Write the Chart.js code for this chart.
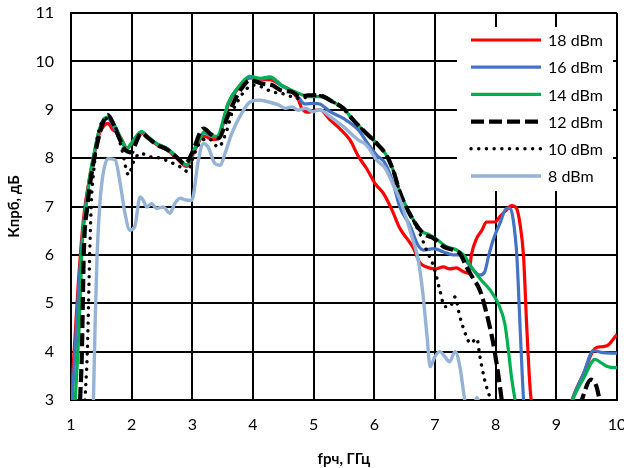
<!DOCTYPE html>
<html>
<head>
<meta charset="utf-8">
<script src="https://cdn.jsdelivr.net/npm/chart.js@4"></script>
<style>
  body { margin: 0; background: #fff; }
  canvas { display: block; }
</style>
</head>
<body>
<canvas id="chart" width="624" height="468"></canvas>
<script>
// legend labels
const labels = ['18 dBm', '16 dBm', '14 dBm', '12 dBm', '10 dBm', '8 dBm'];

// 18 dBm
const freq18 = [1.0, 1.07, 1.12, 1.16, 1.22, 1.3, 1.37, 1.45, 1.53, 1.61, 1.68, 1.78, 1.85, 1.92, 2.03, 2.16, 2.27, 2.41, 2.58, 2.74, 2.91, 3.0, 3.15, 3.2, 3.34, 3.43, 3.59, 3.76, 3.95, 4.12, 4.28, 4.47, 4.64, 4.75, 4.8, 4.9, 5.0, 5.1, 5.27, 5.43, 5.6, 5.74, 5.87, 6.01, 6.15, 6.29, 6.42, 6.53, 6.64, 6.75, 6.86, 7.0, 7.14, 7.24, 7.35, 7.47, 7.56, 7.6, 7.69, 7.77, 7.85, 7.99, 8.07, 8.18, 8.26, 8.34, 8.4, 8.46, 8.51, 8.57, 8.61, 8.7, 9.15, 9.26, 9.45, 9.64, 9.75, 9.86, 9.97, 10.0];
const kp18 = [3.0, 4.38, 5.41, 6.1, 6.9, 7.55, 8.0, 8.45, 8.65, 8.72, 8.6, 8.5, 8.35, 8.2, 8.35, 8.52, 8.42, 8.28, 8.18, 8.0, 7.83, 8.05, 8.42, 8.45, 8.38, 8.42, 9.1, 9.45, 9.66, 9.63, 9.62, 9.5, 9.38, 9.2, 9.04, 8.95, 8.98, 9.0, 8.79, 8.61, 8.37, 8.03, 7.79, 7.48, 7.27, 6.93, 6.55, 6.35, 6.15, 5.84, 5.75, 5.71, 5.75, 5.71, 5.73, 5.65, 5.62, 6.0, 6.35, 6.5, 6.68, 6.68, 6.79, 6.93, 7.02, 6.97, 6.65, 5.96, 4.58, 3.2, 2.8, 2.5, 2.5, 3.0, 3.55, 4.07, 4.1, 4.14, 4.31, 4.35];

// 16 dBm
const freq16 = [1.02, 1.08, 1.13, 1.17, 1.23, 1.3, 1.37, 1.45, 1.53, 1.61, 1.7, 1.8, 1.92, 2.03, 2.16, 2.27, 2.41, 2.58, 2.74, 2.91, 3.0, 3.15, 3.2, 3.34, 3.43, 3.59, 3.76, 3.95, 4.12, 4.28, 4.47, 4.64, 4.75, 4.85, 5.0, 5.1, 5.27, 5.49, 5.74, 5.87, 6.04, 6.18, 6.31, 6.42, 6.59, 6.72, 6.81, 6.98, 7.14, 7.3, 7.41, 7.52, 7.63, 7.74, 7.82, 7.88, 7.96, 8.07, 8.18, 8.24, 8.29, 8.35, 8.4, 8.46, 8.5, 9.15, 9.26, 9.45, 9.61, 9.77, 9.97, 10.0];
const kp16 = [3.0, 4.3, 5.4, 6.1, 6.9, 7.5, 8.0, 8.5, 8.75, 8.82, 8.65, 8.42, 8.2, 8.37, 8.55, 8.43, 8.3, 8.2, 8.03, 7.85, 8.08, 8.47, 8.52, 8.45, 8.45, 9.13, 9.47, 9.67, 9.64, 9.67, 9.5, 9.38, 9.25, 9.12, 9.13, 9.12, 8.96, 8.82, 8.58, 8.34, 8.06, 7.89, 7.48, 6.99, 6.6, 6.2, 6.1, 6.13, 6.06, 6.0, 6.0, 5.86, 5.69, 5.58, 5.65, 5.96, 6.31, 6.65, 6.96, 6.96, 6.72, 5.96, 4.58, 3.0, 2.5, 2.5, 3.0, 3.55, 4.02, 3.98, 3.97, 3.97];

// 14 dBm
const freq14 = [1.07, 1.13, 1.16, 1.18, 1.25, 1.3, 1.37, 1.45, 1.53, 1.61, 1.73, 1.84, 1.92, 2.03, 2.16, 2.27, 2.41, 2.58, 2.74, 2.91, 3.0, 3.15, 3.19, 3.4, 3.59, 3.76, 3.95, 4.12, 4.28, 4.47, 4.64, 4.75, 4.91, 5.1, 5.32, 5.49, 5.65, 5.87, 6.01, 6.2, 6.31, 6.42, 6.59, 6.75, 6.92, 7.04, 7.19, 7.36, 7.47, 7.58, 7.74, 7.91, 8.04, 8.15, 8.21, 8.26, 8.32, 8.4, 9.15, 9.27, 9.45, 9.64, 9.75, 9.83, 9.97, 10.0];
const kp14 = [3.0, 4.38, 5.3, 6.1, 7.0, 7.55, 8.03, 8.51, 8.79, 8.85, 8.65, 8.37, 8.2, 8.37, 8.55, 8.44, 8.3, 8.2, 8.03, 7.86, 8.1, 8.47, 8.54, 8.44, 9.13, 9.47, 9.69, 9.65, 9.68, 9.51, 9.4, 9.34, 9.27, 9.27, 9.16, 9.03, 8.79, 8.51, 8.34, 8.06, 7.75, 7.3, 6.85, 6.51, 6.41, 6.31, 6.17, 6.1, 6.0, 5.79, 5.51, 5.27, 5.0, 4.58, 4.03, 3.48, 3.0, 2.5, 2.5, 3.0, 3.45, 3.84, 3.76, 3.7, 3.67, 3.67];

// 12 dBm
const freq12 = [1.15, 1.18, 1.21, 1.27, 1.33, 1.4, 1.48, 1.55, 1.61, 1.7, 1.8, 1.89, 2.0, 2.08, 2.16, 2.27, 2.41, 2.58, 2.74, 2.88, 3.0, 3.15, 3.19, 3.3, 3.43, 3.59, 3.7, 3.81, 3.95, 4.15, 4.31, 4.47, 4.64, 4.78, 4.91, 5.08, 5.15, 5.32, 5.49, 5.65, 5.87, 6.01, 6.2, 6.31, 6.42, 6.64, 6.81, 6.98, 7.14, 7.3, 7.41, 7.52, 7.63, 7.74, 7.85, 7.96, 8.04, 8.1, 8.15, 9.3, 9.42, 9.57, 9.71, 9.75, 10.0];
const kp12 = [3.0, 4.0, 6.0, 7.0, 7.6, 8.1, 8.55, 8.8, 8.89, 8.7, 8.4, 8.17, 8.12, 8.35, 8.52, 8.42, 8.28, 8.18, 8.02, 7.88, 8.12, 8.58, 8.61, 8.5, 8.41, 8.89, 9.2, 9.44, 9.61, 9.54, 9.51, 9.4, 9.37, 9.27, 9.3, 9.3, 9.28, 9.16, 9.03, 8.79, 8.51, 8.34, 8.06, 7.75, 7.3, 6.72, 6.44, 6.34, 6.17, 6.1, 6.03, 5.75, 5.51, 5.27, 4.79, 4.17, 3.55, 3.0, 2.5, 2.5, 3.0, 3.42, 3.0, 2.5, 2.5];

// 10 dBm
const freq10 = [1.23, 1.27, 1.31, 1.34, 1.38, 1.42, 1.5, 1.59, 1.73, 1.84, 1.95, 2.03, 2.14, 2.3, 2.47, 2.63, 2.8, 2.93, 3.0, 3.1, 3.26, 3.43, 3.57, 3.65, 3.76, 3.87, 4.0, 4.15, 4.31, 4.47, 4.64, 4.8, 4.96, 5.15, 5.32, 5.49, 5.65, 5.87, 6.01, 6.2, 6.31, 6.42, 6.64, 6.75, 6.86, 6.98, 7.08, 7.16, 7.25, 7.33, 7.41, 7.52, 7.58, 7.69, 7.74, 7.82, 7.91, 7.96, 8.0];
const kp10 = [3.0, 4.03, 6.1, 7.2, 7.8, 8.3, 8.72, 8.82, 8.65, 8.17, 7.65, 7.92, 8.1, 8.03, 8.0, 7.92, 7.82, 7.72, 7.97, 8.27, 8.41, 8.23, 8.58, 8.92, 9.2, 9.4, 9.51, 9.47, 9.37, 9.34, 9.27, 9.23, 9.3, 9.28, 9.16, 9.03, 8.79, 8.51, 8.34, 8.06, 7.75, 7.3, 6.72, 6.44, 6.1, 5.75, 5.27, 4.93, 4.93, 5.13, 4.72, 4.31, 4.17, 4.27, 3.9, 3.41, 3.07, 3.0, 2.5];

// 8 dBm
const freq8 = [1.37, 1.4, 1.43, 1.48, 1.53, 1.61, 1.73, 1.81, 1.89, 1.97, 2.05, 2.14, 2.19, 2.25, 2.33, 2.41, 2.52, 2.63, 2.71, 2.8, 2.91, 2.99, 3.1, 3.18, 3.26, 3.37, 3.46, 3.54, 3.65, 3.81, 3.95, 4.09, 4.26, 4.42, 4.53, 4.64, 4.75, 4.86, 4.99, 5.1, 5.27, 5.49, 5.74, 5.87, 6.04, 6.18, 6.31, 6.42, 6.59, 6.73, 6.8, 6.87, 6.92, 7.0, 7.08, 7.16, 7.24, 7.33, 7.41, 7.49, 7.55, 7.63, 7.69, 7.75, 7.8];
const kp8 = [3.0, 4.7, 6.0, 7.13, 7.68, 7.99, 7.96, 7.48, 6.86, 6.51, 6.58, 7.2, 7.13, 6.99, 7.06, 6.96, 6.99, 6.86, 7.06, 7.17, 7.13, 7.13, 7.96, 8.3, 8.23, 7.89, 7.85, 8.1, 8.51, 8.92, 9.16, 9.2, 9.16, 9.1, 9.03, 9.06, 8.99, 9.03, 8.96, 9.0, 8.86, 8.65, 8.37, 8.27, 7.96, 7.79, 7.45, 7.15, 6.5, 5.85, 5.2, 4.3, 3.69, 3.9, 4.0, 3.9, 3.79, 4.0, 3.69, 3.0, 2.6, 2.8, 3.05, 2.8, 2.5];

const xTicks = [1, 2, 3, 4, 5, 6, 7, 8, 9, 10];
const yTicks = [3, 4, 5, 6, 7, 8, 9, 10, 11];

function pairs(xs, ys) {
    return xs.map((x, i) => ({ x: x, y: ys[i] }));
}

const FONT = "Lato, 'Open Sans', sans-serif";

const styles = [
    { color: '#FF0000', width: 3.2, dash: [], cap: 'butt' },
    { color: '#4472C4', width: 3.2, dash: [], cap: 'butt' },
    { color: '#00B050', width: 3.2, dash: [], cap: 'butt' },
    { color: '#000000', width: 4.2, dash: [13, 5], cap: 'butt' },
    { color: '#000000', width: 3.4, dash: [0.1, 7.6], cap: 'round' },
    { color: '#95B3D7', width: 3.4, dash: [], cap: 'butt' }
];

const seriesData = [
    pairs(freq18, kp18),
    pairs(freq16, kp16),
    pairs(freq14, kp14),
    pairs(freq12, kp12),
    pairs(freq10, kp10),
    pairs(freq8, kp8)
];

const datasets = seriesData.map((d, i) => ({
    label: labels[i],
    data: d,
    borderColor: styles[i].color,
    borderWidth: styles[i].width,
    borderDash: styles[i].dash,
    borderCapStyle: styles[i].cap,
    pointRadius: 0,
    fill: false,
    cubicInterpolationMode: 'monotone',
    clip: 0,
    order: 6 - i  // later series drawn on top, like the original
}));

// legend drawn inside the plot, on a white box
const insideLegend = {
    id: 'insideLegend',
    afterDraw(chart) {
        const ctx = chart.ctx;
        const area = chart.chartArea;
        const boxLeft = area.right - 160;
        const boxTop = area.top + 14;
        ctx.save();
        ctx.fillStyle = '#ffffff';
        ctx.fillRect(boxLeft, boxTop, 156, 164);
        for (let i = 0; i < labels.length; i++) {
            const y = area.top + 27 + i * 27.2;
            const s = styles[i];
            ctx.beginPath();
            ctx.strokeStyle = s.color;
            ctx.lineWidth = s.width;
            ctx.lineCap = s.cap;
            ctx.setLineDash(s.dash);
            ctx.moveTo(boxLeft + 14, y);
            ctx.lineTo(boxLeft + 84, y);
            ctx.stroke();
            ctx.setLineDash([]);
            ctx.fillStyle = '#000';
            ctx.font = '16px ' + FONT;
            ctx.textBaseline = 'middle';
            ctx.textAlign = 'left';
            ctx.fillText(labels[i], boxLeft + 91, y + 1);
        }
        ctx.restore();
    }
};

new Chart(document.getElementById('chart'), {
    type: 'line',
    data: { datasets: datasets },
    options: {
        responsive: false,
        animation: false,
        layout: { padding: { top: 13, right: 7, left: 0, bottom: 0 } },
        plugins: {
            legend: { display: false },
            tooltip: { enabled: false }
        },
        scales: {
            x: {
                type: 'linear',
                min: 1,
                max: 10,
                afterBuildTicks: (scale) => { scale.ticks = xTicks.map(v => ({ value: v })); },
                afterFit: (scale) => { scale.height = 68; scale.paddingLeft = 0; scale.paddingRight = 0; },
                grid: { color: '#000', lineWidth: 2, drawTicks: false },
                border: { color: '#000', width: 2 },
                ticks: { color: '#000', font: { family: FONT, size: 16 }, padding: 15, maxRotation: 0 },
                title: { display: true, text: 'fрч, ГГц', color: '#000', font: { family: FONT, size: 15, weight: 'bold' }, padding: { top: 12, bottom: 0 } }
            },
            y: {
                min: 3,
                max: 11,
                afterBuildTicks: (scale) => { scale.ticks = yTicks.map(v => ({ value: v })); },
                afterFit: (scale) => { scale.width = 71; scale.paddingTop = 0; scale.paddingBottom = 0; },
                grid: { color: '#000', lineWidth: 2, drawTicks: false },
                border: { color: '#000', width: 2 },
                ticks: { color: '#000', font: { family: FONT, size: 16 }, padding: 17 },
                title: { display: true, text: 'Кпрб, дБ', color: '#000', font: { family: FONT, size: 15, weight: 'bold' }, padding: { top: 5, bottom: 0 } }
            }
        }
    },
    plugins: [insideLegend]
});
</script>
</body>
</html>
